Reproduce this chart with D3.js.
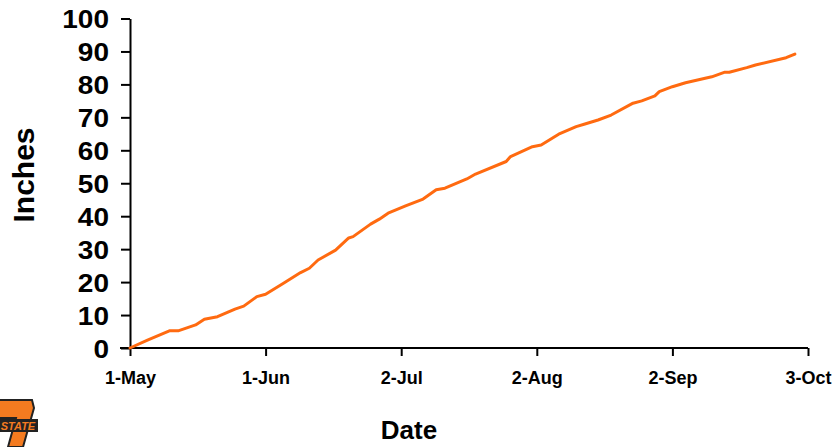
<!DOCTYPE html>
<html><head><meta charset="utf-8">
<script src="https://cdn.jsdelivr.net/npm/d3@7"></script>
<style>body{margin:0;background:#fff}svg{display:block}text{font-family:"Liberation Sans",Arial,sans-serif;font-weight:bold}</style>
</head><body>
<svg id="chart" width="839" height="447"></svg>
<script>
const dates = ["2011-05-01","2011-05-05","2011-05-10","2011-05-12","2011-05-16","2011-05-18","2011-05-21","2011-05-25","2011-05-27","2011-05-30","2011-06-01","2011-06-05","2011-06-09","2011-06-11","2011-06-13","2011-06-17","2011-06-20","2011-06-21","2011-06-25","2011-06-27","2011-06-29","2011-07-03","2011-07-07","2011-07-10","2011-07-12","2011-07-17","2011-07-19","2011-07-26","2011-07-27","2011-08-01","2011-08-03","2011-08-07","2011-08-11","2011-08-13","2011-08-16","2011-08-19","2011-08-24","2011-08-26","2011-08-29","2011-08-30","2011-09-02","2011-09-05","2011-09-07","2011-09-11","2011-09-14","2011-09-15","2011-09-19","2011-09-21","2011-09-28","2011-09-30"];
const inches = [0,2.4,5.2,5.2,7.0,8.7,9.5,11.8,12.7,15.6,16.3,19.6,22.9,24.2,26.7,29.7,33.4,33.8,37.6,39.1,40.9,43.1,45.2,48.0,48.5,51.3,52.8,56.6,58.1,61.1,61.6,64.9,67.2,68.0,69.2,70.7,74.3,75.0,76.5,77.8,79.3,80.5,81.1,82.3,83.7,83.7,85.1,85.9,88.1,89.2];
const xTickDates = ["2011-05-01","2011-06-01","2011-07-02","2011-08-02","2011-09-02","2011-10-03"];
const xTickLabels = ["1-May","1-Jun","2-Jul","2-Aug","2-Sep","3-Oct"];
const yTicks = [0,10,20,30,40,50,60,70,80,90,100];
const xTitle = "Date", yTitle = "Inches";

const parse = d3.utcParse("%Y-%m-%d");
const data = dates.map((d,i)=>({date:parse(d), v:inches[i]}));
const svg = d3.select("#chart");
const x = d3.scaleUtc().domain([parse(xTickDates[0]), parse(xTickDates[xTickDates.length-1])]).range([130,808]);
const y = d3.scaleLinear().domain([0,100]).range([348,18.5]);

const xAxis = d3.axisBottom(x).tickValues(xTickDates.map(parse)).tickFormat((d,i)=>xTickLabels[i]).tickSize(8).tickSizeOuter(0).tickPadding(15);
const gx = svg.append("g").attr("transform","translate(0,348)").call(xAxis);
gx.select(".domain").attr("stroke","#000").attr("stroke-width",2).attr("d","M120,0H808");
gx.selectAll(".tick line").attr("stroke","#000").attr("stroke-width",2);
gx.selectAll(".tick text").attr("font-size",18).attr("fill","#000").attr("font-family","Liberation Sans, Arial, sans-serif").attr("font-weight","bold");

const yAxis = d3.axisLeft(y).tickValues(yTicks).tickSize(9).tickSizeOuter(0).tickPadding(0);
const gy = svg.append("g").attr("transform","translate(130,0)").call(yAxis);
gy.select(".domain").attr("stroke","#000").attr("stroke-width",2);
gy.selectAll(".tick line").attr("stroke","#000").attr("stroke-width",2);
gy.selectAll(".tick text").attr("font-size",25).attr("fill","#000").attr("font-family","Liberation Sans, Arial, sans-serif").attr("font-weight","bold").attr("dy","0.36em")
  .attr("x",0).attr("transform","translate(-21,0) scale(1.12,1)");

svg.append("path").datum(data).attr("fill","none").attr("stroke","#FF6A10").attr("stroke-width",3)
  .attr("stroke-linejoin","round").attr("stroke-linecap","round")
  .attr("d", d3.line().x(d=>x(d.date)).y(d=>y(d.v)));

svg.append("text").attr("x",409).attr("y",439).attr("text-anchor","middle").attr("font-size",26).text(xTitle);
svg.append("text").attr("transform","translate(34,175) rotate(-90)").attr("text-anchor","middle").attr("font-size",30).text(yTitle);

// logo approximation (partially cut at left edge)
const lg = svg.append("g");
lg.append("path").attr("d","M-6,400 L32,400 L34,408 L23,447 L8,447 L16,418 L-6,418 Z").attr("fill","#F47B20").attr("stroke","#222").attr("stroke-width",2);
lg.append("rect").attr("x",-2).attr("y",419).attr("width",40).attr("height",13).attr("fill","#222");
lg.append("text").attr("x",18).attr("y",430).attr("text-anchor","middle").attr("font-size",11).attr("fill","#F47B20").attr("font-style","italic").text("STATE");
</script>
</body></html>
